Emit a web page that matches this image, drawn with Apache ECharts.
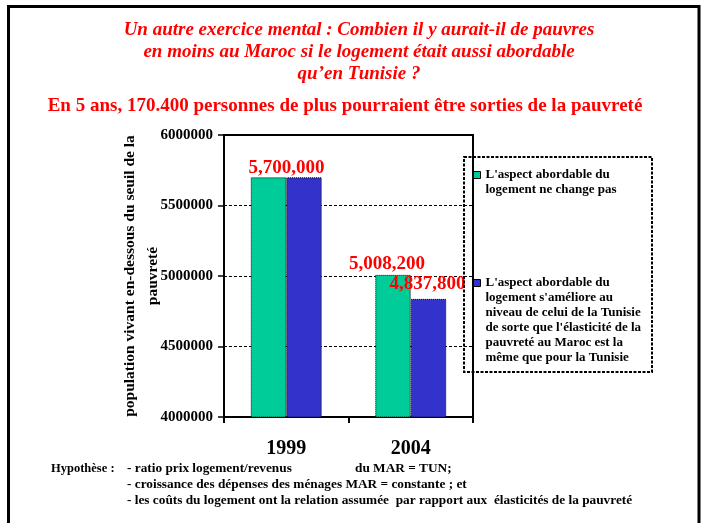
<!DOCTYPE html>
<html>
<head>
<meta charset="utf-8">
<script src="https://cdn.jsdelivr.net/npm/echarts@6/dist/echarts.min.js"></script>
<style>
  html, body { margin: 0; padding: 0; background: #fff; }
  #chart { width: 702px; height: 523px; }
</style>
</head>
<body>
<div id="chart"></div>
<script>
// Years on the category axis
const years = ['1999', '2004'];

// Poor population, housing affordability unchanged
const poorUnchanged = [5700000, 5008200];
// Poor population, affordability raised to the Tunisian level
const poorTunisiaLevel = [5700000, 4837800];

// Value axis range and step
const yMin = 4000000;
const yMax = 6000000;
const yStep = 500000;

// Series names, wrapped as they appear in the legend box
const nameUnchangedLines = ["L'aspect abordable du", 'logement ne change pas'];
const nameTunisiaLines = [
  "L'aspect abordable du",
  "logement s'améliore au",
  'niveau de celui de la Tunisie',
  "de sorte que l'élasticité de la",
  'pauvreté au Maroc est la',
  'même que pour la Tunisie'
];

// Heading and notes
const titleLines = [
  'Un autre exercice mental : Combien il y aurait-il de pauvres',
  'en moins au Maroc si le logement était aussi abordable',
  'qu\u2019en Tunisie ?'
];
const subtitle = 'En 5 ans, 170.400 personnes de plus pourraient être sorties de la pauvreté';
const yAxisNameLines = ['population vivant en-dessous du seuil de la', 'pauvreté'];
const noteLabel = 'Hypothèse :';
const noteLines = [
  '- ratio prix logement/revenus                   du MAR = TUN;',
  '- croissance des dépenses des ménages MAR = constante ; et',
  '- les coûts du logement ont la relation assumée  par rapport aux  élasticités de la pauvreté'
];

const FONT = '"Liberation Serif", "Times New Roman", serif';
const GREEN = '#00CC99';
const BLUE = '#3333CC';
const RED = '#FF0000';

const nameUnchanged = nameUnchangedLines.join(' ');
const nameTunisia = nameTunisiaLines.join(' ');

const fmt = v => Number(v).toLocaleString('en-US');

const valueLabel = {
  show: true,
  position: 'top',
  color: RED,
  fontFamily: FONT,
  fontWeight: 'bold',
  fontSize: 19,
  formatter: p => fmt(p.value)
};

// 1999: one shared label centred over the pair of bars; 2004: one label per bar
const greenData = poorUnchanged.map((v, i) => ({
  value: v,
  label: i === 0
    ? Object.assign({}, valueLabel, { offset: [18, 5] })
    : Object.assign({}, valueLabel, { offset: [-6, 4] })
}));
const blueData = poorTunisiaLevel.map((v, i) => ({
  value: v,
  label: i === 0
    ? { show: false }
    : Object.assign({}, valueLabel, { offset: [-1, 0] })
}));

const LEGEND_LINE = 15;
const legendText = {
  fontFamily: FONT,
  fontWeight: 'bold',
  fontSize: 13,
  color: '#000',
  lineHeight: LEGEND_LINE
};

// Each legend entry is centred on its marker; leading blank lines put the
// first line of the wrapped name level with the marker instead.
function legendFor(name, lines, markerCenterY) {
  const blanks = new Array(lines.length - 1).fill('');
  const total = blanks.length + lines.length;
  return {
    data: [name],
    orient: 'vertical',
    left: 473,
    top: markerCenterY - total * LEGEND_LINE / 2,
    padding: 0,
    itemWidth: 7,
    itemHeight: 7,
    itemGap: 0,
    icon: 'rect',
    selectedMode: false,
    itemStyle: { borderColor: '#000', borderWidth: 1 },
    textStyle: legendText,
    formatter: () => blanks.concat(lines).join('\n')
  };
}

const chart = echarts.init(document.getElementById('chart'), null, { renderer: 'canvas' });

const option = {
  animation: false,
  backgroundColor: '#fff',
  title: [
    {
      text: titleLines.join('\n'),
      left: 359,
      top: 19,
      textAlign: 'center',
      padding: 0,
      textStyle: {
        fontFamily: FONT, fontStyle: 'italic', fontWeight: 'bold',
        fontSize: 19, lineHeight: 22, color: RED, align: 'center'
      }
    },
    {
      text: subtitle,
      left: 345,
      top: 95,
      textAlign: 'center',
      padding: 0,
      textStyle: {
        fontFamily: FONT, fontWeight: 'bold', fontSize: 19, lineHeight: 22, color: RED
      }
    },
    {
      text: noteLabel,
      left: 51,
      top: 461,
      padding: 0,
      textStyle: { fontFamily: FONT, fontWeight: 'bold', fontSize: 12.5, lineHeight: 16, color: '#000' }
    },
    {
      text: noteLines.join('\n'),
      left: 127,
      top: 461,
      padding: 0,
      textStyle: { fontFamily: FONT, fontWeight: 'bold', fontSize: 13.3, lineHeight: 16, color: '#000' }
    }
  ],
  legend: [
    legendFor(nameUnchanged, nameUnchangedLines, 175),
    legendFor(nameTunisia, nameTunisiaLines, 283)
  ],
  grid: {
    left: 224,
    top: 135,
    width: 249,
    height: 282,
    show: true,
    borderColor: '#000',
    borderWidth: 2,
    containLabel: false
  },
  xAxis: {
    type: 'category',
    data: years,
    boundaryGap: true,
    axisLine: { show: true, lineStyle: { color: '#000', width: 2 } },
    axisTick: { show: true, alignWithLabel: false, length: 6, lineStyle: { color: '#000', width: 2 } },
    axisLabel: {
      margin: 22,
      fontFamily: FONT, fontWeight: 'bold', fontSize: 20, color: '#000'
    },
    splitLine: { show: false }
  },
  yAxis: {
    type: 'value',
    min: yMin,
    max: yMax,
    interval: yStep,
    name: yAxisNameLines.join('\n'),
    nameLocation: 'middle',
    nameGap: 60,
    nameMoveOverlap: false,
    nameRotate: 90,
    nameTextStyle: {
      fontFamily: FONT, fontWeight: 'bold', fontSize: 15.5, lineHeight: 23,
      color: '#000', align: 'center'
    },
    axisLine: { show: true, lineStyle: { color: '#000', width: 2 } },
    axisTick: { show: true, length: 6, lineStyle: { color: '#000', width: 1.5 } },
    axisLabel: {
      margin: 11,
      fontFamily: FONT, fontWeight: 'bold', fontSize: 15, color: '#000',
      formatter: v => String(v)
    },
    splitLine: { show: true, lineStyle: { color: '#000', width: 1, type: [3, 2] } }
  },
  series: [
    {
      name: nameUnchanged,
      type: 'bar',
      data: greenData,
      barWidth: 35.5,
      barGap: '0%',
      itemStyle: { color: GREEN, borderColor: '#000', borderWidth: 1, borderType: 'dotted' },
      z: 3
    },
    {
      name: nameTunisia,
      type: 'bar',
      data: blueData,
      barWidth: 35.5,
      barGap: '0%',
      itemStyle: { color: BLUE, borderColor: '#000', borderWidth: 1, borderType: 'dotted' },
      z: 3
    }
  ],
  graphic: [
    // outer frame of the slide
    {
      type: 'rect',
      shape: { x: 8.5, y: 6.5, width: 690.5, height: 530 },
      style: { fill: 'none', stroke: '#000', lineWidth: 3 },
      silent: true,
      z: 10
    },
    // legend box
    {
      type: 'rect',
      shape: { x: 464, y: 157, width: 188, height: 215 },
      style: { fill: 'none', stroke: '#000', lineWidth: 2, lineDash: [3, 1.5] },
      silent: true,
      z: 10
    }
  ]
};

chart.setOption(option);
</script>
</body>
</html>
